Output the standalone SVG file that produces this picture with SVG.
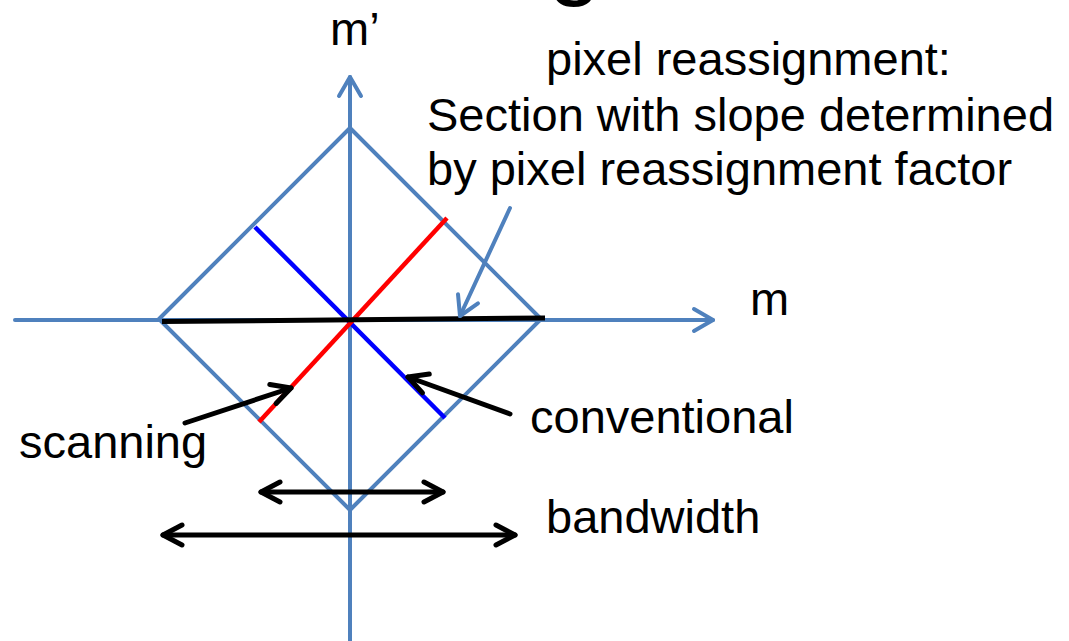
<svg xmlns="http://www.w3.org/2000/svg" width="1069" height="641" viewBox="0 0 1069 641">
  <style>
    .t { font-family: "Liberation Sans", Arial, Helvetica, sans-serif; font-size: 47px; fill: #000; }
    .ax { stroke: #4F81BD; stroke-width: 4; fill: none; stroke-linecap: round; stroke-linejoin: round; }
    .blk { stroke: #000; stroke-width: 5; fill: none; stroke-linecap: round; }
  </style>
  <defs>
    <marker id="ab" markerUnits="userSpaceOnUse" viewBox="-25 -15 30 30" refX="0" refY="0" markerWidth="30" markerHeight="30" orient="auto-start-reverse">
      <path d="M-19,-11 L0,0 L-19,11" fill="none" stroke="#4F81BD" stroke-width="4" stroke-linecap="round" stroke-linejoin="round"/>
    </marker>
    <marker id="ak" markerUnits="userSpaceOnUse" viewBox="-25 -15 30 30" refX="0" refY="0" markerWidth="30" markerHeight="30" orient="auto-start-reverse">
      <path d="M-19,-10 L0,0 L-19,10" fill="none" stroke="#000" stroke-width="5" stroke-linecap="round" stroke-linejoin="round"/>
    </marker>
  </defs>

  <text class="t" x="548" y="-13" style="font-size:96px">g</text>

  <g id="axes">
    <line class="ax" x1="350" y1="641" x2="350" y2="77" marker-end="url(#ab)"/>
    <line class="ax" x1="15" y1="320" x2="713" y2="320" marker-end="url(#ab)"/>
  </g>

  <g id="diamond">
    <polygon class="ax" points="350,128 541,319 350,510 159,319"/>
  </g>

  <g id="conventional-line">
    <line x1="255" y1="227" x2="445" y2="418" stroke="#0000FF" stroke-width="4.5"/>
  </g>
  <g id="scanning-line">
    <line x1="447" y1="218" x2="259" y2="422" stroke="#FF0000" stroke-width="4.5"/>
  </g>
  <g id="section-line">
    <line x1="162" y1="321.5" x2="545" y2="318" stroke="#000" stroke-width="5"/>
  </g>

  <g id="connectors">
    <line class="ax" x1="510" y1="208" x2="460" y2="316" marker-end="url(#ab)"/>
    <line class="blk" x1="185" y1="423" x2="291" y2="388" marker-end="url(#ak)"/>
    <line class="blk" x1="510" y1="414" x2="408" y2="377" marker-end="url(#ak)"/>
    <line class="blk" x1="261" y1="492" x2="443" y2="492" marker-start="url(#ak)" marker-end="url(#ak)"/>
    <line class="blk" x1="163" y1="535" x2="515" y2="535" marker-start="url(#ak)" marker-end="url(#ak)"/>
  </g>

  <g id="labels">
    <text class="t" x="330" y="45">m’</text>
    <text class="t" x="750" y="315">m</text>
    <text class="t" x="546" y="75">pixel reassignment:</text>
    <text class="t" x="427" y="131">Section with slope determined</text>
    <text class="t" x="427" y="185">by pixel reassignment factor</text>
    <text class="t" x="530" y="433">conventional</text>
    <text class="t" x="19" y="458">scanning</text>
    <text class="t" x="546" y="533">bandwidth</text>
  </g>
</svg>
